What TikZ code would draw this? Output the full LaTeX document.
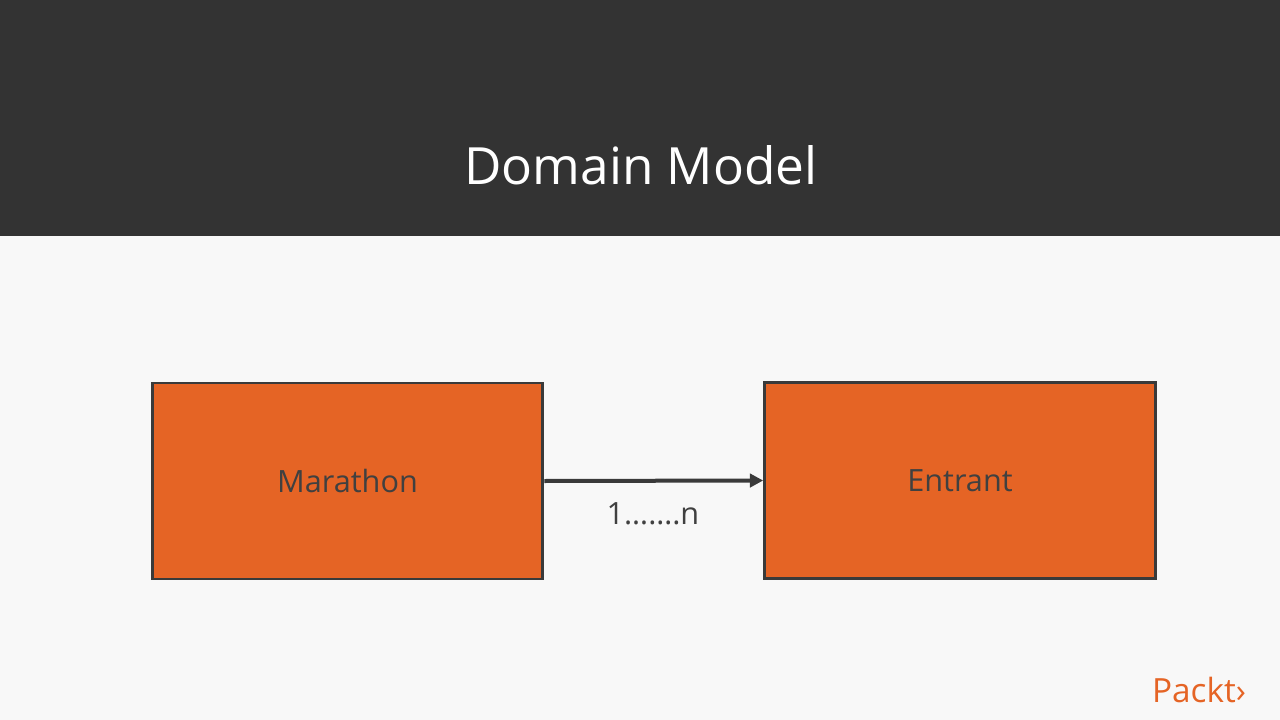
\documentclass[tikz,border=0pt]{standalone}
\usepackage{fontspec}
\setmainfont{Open Sans}
\usetikzlibrary{arrows.meta}
\definecolor{hdr}{HTML}{333333}
\definecolor{bg}{HTML}{F8F8F8}
\definecolor{box}{HTML}{E56425}
\definecolor{edge}{HTML}{3A3A3A}
\definecolor{txt}{HTML}{404040}
\tikzset{entity/.style={draw=edge,line width=2.2pt,fill=box,minimum width=293pt,minimum height=147pt,inner sep=0pt,font=\fontsize{23}{27}\selectfont,text=txt}}
\begin{document}
\begin{tikzpicture}[x=0.75pt,y=-0.75pt]
\useasboundingbox (0,0) rectangle (1280,720);
\fill[bg] (0,0) rectangle (1280,720);
\fill[hdr] (0,0) rectangle (1280,236);
\node[text=white,font=\fontsize{38.5}{44}\selectfont] (title) at (641,165) {Domain Model};
\node[entity] (m) at (347.5,481) {Marathon};
\node[entity] (e) at (960,480.5) {Entrant};
\draw[edge,line width=3pt,-{Triangle[length=10pt,width=10pt]}] (m.east) -- (e.west);
\node[text=txt,font=\fontsize{23}{27}\selectfont] (lbl) at (653,514) {1…….n};
\node[text=box,font=\fontsize{25}{28}\selectfont] (logo) at (1199,690) {Packt›};
\end{tikzpicture}
\end{document}
